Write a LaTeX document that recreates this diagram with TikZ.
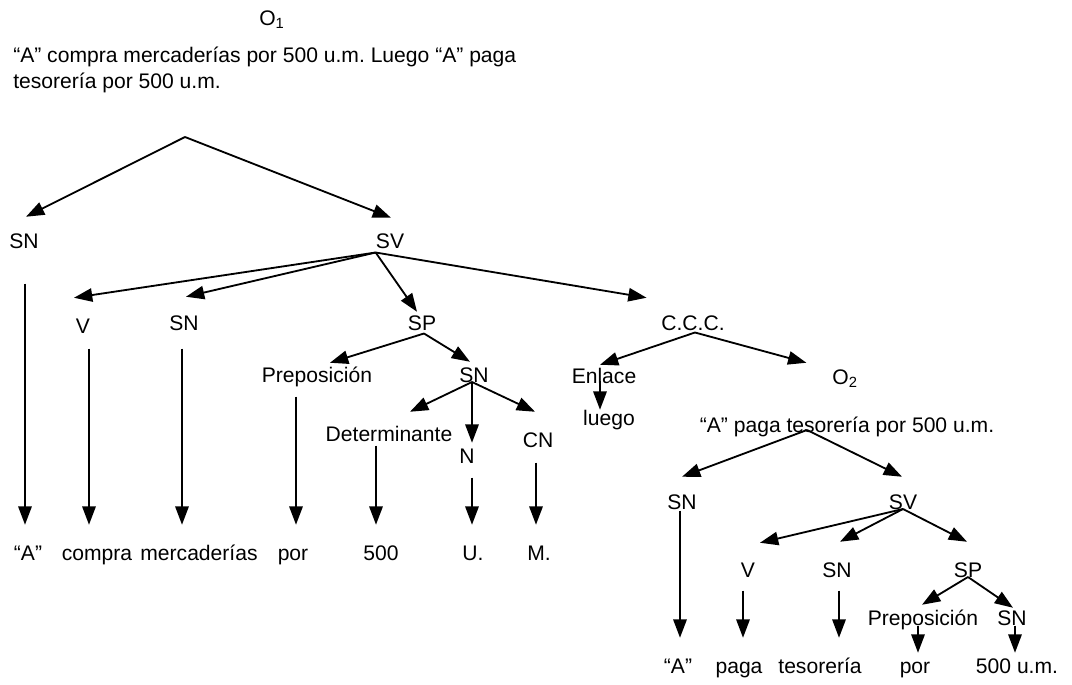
\documentclass[tikz,border=0pt]{standalone}
\usepackage{fontspec}
\setmainfont{Liberation Sans}
\usetikzlibrary{arrows.meta}

\begin{document}
\frenchspacing
\begin{tikzpicture}[x=0.025cm, y=-0.025cm,
    lbl/.style={inner sep=0pt, anchor=base, text height=11pt, text depth=3pt, font=\fontsize{15}{18.5}\selectfont},
    arr/.style={-{Triangle[length=13pt, width=9.5pt]}, line width=1.3pt}]
    \useasboundingbox (0,0) rectangle (1072,684);

    % Oracion 1
    \node[lbl] (o1) at (272,25) {O\textsubscript{1}};
    \node[inner sep=0pt, anchor=north west, align=left, font=\fontsize{15}{18.5}\selectfont] (sent1) at (13,47)
        {“A” compra mercaderías por 500 u.m. Luego “A” paga\\tesorería por 500 u.m.};
    \coordinate (top) at (185,137);

    % Sujeto y predicado
    \node[lbl] (sn1) at (24,248) {SN};
    \node[lbl] (sv1) at (390,248) {SV};

    % Predicado
    \node[lbl] (v1) at (83,333) {V};
    \node[lbl] (sn2) at (184,330) {SN};
    \node[lbl] (sp1) at (422,330) {SP};
    \node[lbl] (ccc) at (693,330) {C.C.C.};
    \node[lbl] (prep1) at (317,382) {Preposición};
    \node[lbl] (sn3) at (474,382) {SN};
    \node[lbl] (det) at (389,441) {Determinante};
    \node[lbl] (n1) at (467,463) {N};
    \node[lbl] (cn) at (538,447) {CN};

    % Palabras O1
    \node[lbl] (wA) at (28,560) {“A”};
    \node[lbl] (compra) at (97,560) {compra};
    \node[lbl] (merc) at (199,560) {mercaderías};
    \node[lbl] (por1) at (293,560) {por};
    \node[lbl] (w500) at (381,560) {500};
    \node[lbl] (wU) at (473,560) {U.};
    \node[lbl] (wM) at (539,560) {M.};

    % C.C.C.
    \node[lbl] (enlace) at (604,383) {Enlace};
    \node[lbl] (o2) at (845,384) {O\textsubscript{2}};
    \node[lbl] (luego) at (609,425) {luego};

    % Oracion 2
    \node[lbl] (sent2) at (847,432) {“A” paga tesorería por 500 u.m.};
    \node[lbl] (sn4) at (682,509) {SN};
    \node[lbl] (sv2) at (903,509) {SV};
    \node[lbl] (v2) at (748,577) {V};
    \node[lbl] (sn5) at (837,577) {SN};
    \node[lbl] (sp2) at (968,577) {SP};
    \node[lbl] (prep2) at (923,625) {Preposición};
    \node[lbl] (sn6) at (1012,625) {SN};

    % Palabras O2
    \node[lbl] (wA2) at (678,673) {“A”};
    \node[lbl] (paga) at (739,673) {paga};
    \node[lbl] (teso) at (820,673) {tesorería};
    \node[lbl] (por2) at (915,673) {por};
    \node[lbl] (w500um) at (1017,673) {500 u.m.};

    % Arrows
    \draw[arr] (top) -- ([shift={(2,-15.5)}]sn1.north);
    \draw[arr] (top) -- ([shift={(1,-14.5)}]sv1.north);
    \draw[arr] (sv1.south west) -- ([shift={(-9,-19.5)}]v1.north);
    \draw[arr] (sv1.south west) -- ([shift={(2,-17.5)}]sn2.north);
    \draw[arr] (sv1.south west) -- ([shift={(-5,-2.5)}]sp1.north);
    \draw[arr] (sv1.south west) -- ([shift={(-14.5,-16.5)}]ccc.north west);
    \draw[arr] ([shift={(2,-1)}]sp1.south) -- ([shift={(13,-3.5)}]prep1.north);
    \draw[arr] ([shift={(2,-1)}]sp1.south) -- ([shift={(-4,-4.5)}]sn3.north);
    \draw[arr] ([shift={(-2,0)}]sn3.base) -- ([shift={(21,-13.5)}]det.north);
    \draw[arr] ([shift={(-2,0)}]sn3.base) -- ([shift={(5,-4.5)}]n1.north);
    \draw[arr] ([shift={(-2,0)}]sn3.base) -- ([shift={(-3,-19.5)}]cn.north);
    \draw[arr] ([shift={(2,-2)}]ccc.south) -- ([shift={(-4,-2.5)}]enlace.north);
    \draw[arr] ([shift={(2,-2)}]ccc.south) -- ([shift={(-25.7,-5.5)}]o2.north west);
    \draw[arr] ([shift={(-4,-7)}]enlace.south) -- ([shift={(-9,0.5)}]luego.north);
    \draw[arr] ([shift={(-40,-2)}]sent2.base) -- ([shift={(0,-16.5)}]sn4.north);
    \draw[arr] ([shift={(-40,-2)}]sent2.base) -- ([shift={(-1,-16.5)}]sv2.north);
    \draw[arr] (sv2.base) -- ([shift={(12,-18.5)}]v2.north);
    \draw[arr] (sv2.base) -- ([shift={(3,-19.5)}]sn5.north);
    \draw[arr] (sv2.base) -- ([shift={(-1,-19.5)}]sp2.north);
    \draw[arr] (sp2.base) -- ([shift={(-1,-4.5)}]prep2.north);
    \draw[arr] (sp2.base) -- ([shift={(1,-1.5)}]sn6.north);

    % Verticales
    \draw[arr] ([shift={(1,31)}]sn1.south) -- ([shift={(-3,-19.5)}]wA.north);
    \draw[arr] ([shift={(6,11)}]v1.south) -- ([shift={(-8,-19.5)}]compra.north);
    \draw[arr] ([shift={(-2,14)}]sn2.south) -- ([shift={(-17,-19.5)}]merc.north);
    \draw[arr] ([shift={(-21,10)}]prep1.south) -- ([shift={(3,-19.5)}]por1.north);
    \draw[arr] ([shift={(-13,0)}]det.south) -- ([shift={(-5,-19.5)}]w500.north);
    \draw[arr] ([shift={(5,10)}]n1.south) -- ([shift={(-1,-19.5)}]wU.north);
    \draw[arr] ([shift={(-2,11)}]cn.south) -- ([shift={(-3,-19.5)}]wM.north);
    \draw[arr] ([shift={(-2,-3)}]sn4.south) -- ([shift={(2,-19.5)}]wA2.north);
    \draw[arr] ([shift={(-5,9)}]v2.south) -- ([shift={(4,-19.5)}]paga.north);
    \draw[arr] ([shift={(2,9)}]sn5.south) -- ([shift={(19,-19.5)}]teso.north);
    \draw[arr] ([shift={(-5,-4)}]prep2.south) -- ([shift={(3,-4.5)}]por2.north);
    \draw[arr] ([shift={(3,-4)}]sn6.south) -- ([shift={(-2,-4.5)}]w500um.north);
\end{tikzpicture}
\end{document}
